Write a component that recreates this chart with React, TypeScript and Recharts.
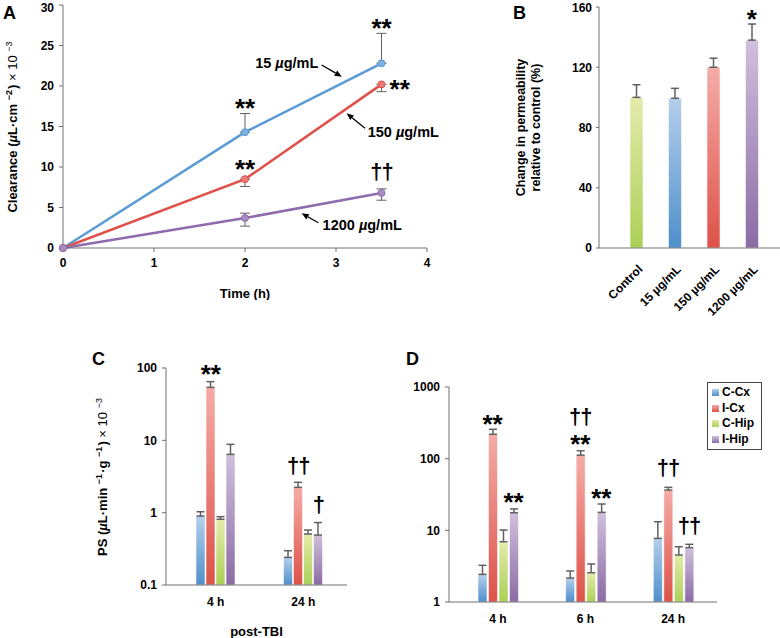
import React from 'react';
import {
  LineChart, Line, BarChart, Bar, XAxis, YAxis, ErrorBar, ReferenceDot, ReferenceLine, Legend, Cell,
} from 'recharts';

const FONT = '"Liberation Sans", Arial, Helvetica, sans-serif';
const AXIS = '#707070';
const ERR = '#606060';

// ---------- Panel A data ----------
const timeH = [0, 2, 3.5];
const xTicksA = [0, 1, 2, 3, 4];
const yTicksA = [0, 5, 10, 15, 20, 25, 30];
const c15 = [0, 14.3, 22.8];
const c15Lo = [0, 14.3, 22.8];
const c15Hi = [0, 16.6, 26.5];
const c150 = [0, 8.5, 20.2];
const c150Lo = [0, 7.6, 19.3];
const c150Hi = [0, 8.5, 20.2];
const c1200 = [0, 3.7, 6.8];
const c1200Lo = [0, 2.7, 5.9];
const c1200Hi = [0, 4.3, 7.3];
const doseLabelsA = [
  { text: '15 µg/mL', x: 2.806, y: 22.88, anchor: 'end' },
  { text: '150 µg/mL', x: 3.348, y: 14.36, anchor: 'start' },
  { text: '1200 µg/mL', x: 2.853, y: 2.84, anchor: 'start' },
];
const arrowsA = [
  { x1: 2.843, y1: 22.59, x2: 3.063, y2: 21.15 },
  { x1: 3.319, y1: 14.78, x2: 3.117, y2: 16.63 },
  { x1: 2.806, y1: 3.12, x2: 2.623, y2: 4.28 },
];
const marksA = [
  { x: 2, y: 18.0, t: '**' },
  { x: 3.5, y: 27.9, t: '**' },
  { x: 2, y: 10.5, t: '**' },
  { x: 3.7, y: 20.3, t: '**' },
  { x: 3.5, y: 9.3, t: '††' },
];

// ---------- Panel B data ----------
const catsB = ['Control', '15 µg/mL', '150 µg/mL', '1200 µg/mL'];
const permB = [100, 99.4, 120, 138];
const permBTop = [108.4, 106, 126, 148.7];
const yTicksB = [0, 40, 80, 120, 160];
const gradB = [
  ['#e4ebab', '#abd056'],
  ['#b5cfeb', '#4e8fcb'],
  ['#f5aca7', '#dd5248'],
  ['#cfc0db', '#8c6ba5'],
];
const marksB = [{ x: '1200 µg/mL', y: 156, t: '*' }];

// ---------- Panels C & D data ----------
const seriesNames = ['C-Cx', 'I-Cx', 'C-Hip', 'I-Hip'];
const seriesKeys = ['cCx', 'iCx', 'cHip', 'iHip'];
const gradS = [
  ['#b5cfeb', '#4e8fcb'],
  ['#f5aca7', '#dd5248'],
  ['#e4ebab', '#abd056'],
  ['#cfc0db', '#8c6ba5'],
];

const catsC = ['4 h', '24 h'];
const C_cCx = [0.9, 0.241];
const C_cCxTop = [1.03, 0.298];
const C_iCx = [54, 2.24];
const C_iCxTop = [64.7, 2.63];
const C_cHip = [0.81, 0.507];
const C_cHipTop = [0.88, 0.575];
const C_iHip = [6.4, 0.49];
const C_iHipTop = [8.8, 0.73];
const yTicksC = [0.1, 1, 10, 100];
const marksC = [
  { x: '4 h', s: 1, y: 98, t: '**' },
  { x: '24 h', s: 1, y: 4.33, t: '††' },
  { x: '24 h', s: 3, y: 1.28, t: '†' },
];

const catsD = ['4 h', '6 h', '24 h'];
const D_cCx = [2.43, 2.16, 7.73];
const D_cCxTop = [3.25, 2.71, 13.2];
const D_iCx = [219, 112, 36.5];
const D_iCxTop = [257, 129, 39.8];
const D_cHip = [6.94, 2.56, 4.53];
const D_cHipTop = [10.1, 3.39, 5.9];
const D_iHip = [17.6, 17.8, 5.73];
const D_iHipTop = [19.9, 23.3, 6.38];
const yTicksD = [1, 10, 100, 1000];
const marksD = [
  { x: '4 h', s: 1, y: 369, t: '**' },
  { x: '4 h', s: 3, y: 30.4, t: '**' },
  { x: '6 h', s: 1, y: 381, t: '††' },
  { x: '6 h', s: 1, y: 194, t: '**' },
  { x: '6 h', s: 3, y: 34.6, t: '**' },
  { x: '24 h', s: 1, y: 74, t: '††' },
  { x: '24 h', s: 3, y: 11.2, t: '††' },
];

// ---------- build rows ----------
const errOf = (v: number, lo: number, hi: number) => (lo === hi && lo === v ? null : [v - lo, hi - v]);
const rowsA = timeH.map((t, i) => ({
  t,
  c15: c15[i], c15Err: errOf(c15[i], c15Lo[i], c15Hi[i]),
  c150: c150[i], c150Err: errOf(c150[i], c150Lo[i], c150Hi[i]),
  c1200: c1200[i], c1200Err: errOf(c1200[i], c1200Lo[i], c1200Hi[i]),
}));
const rowsB = catsB.map((cat, i) => ({ cat, v: permB[i], err: [0, permBTop[i] - permB[i]] }));
const buildRows = (cats: string[], vals: number[][], tops: number[][]) =>
  cats.map((cat, i) => {
    const r: any = { cat };
    seriesKeys.forEach((k, s) => {
      r[k] = vals[s][i];
      r[k + 'Err'] = [0, tops[s][i] - vals[s][i]];
    });
    return r;
  });
const rowsC = buildRows(catsC, [C_cCx, C_iCx, C_cHip, C_iHip], [C_cCxTop, C_iCxTop, C_cHipTop, C_iHipTop]);
const rowsD = buildRows(catsD, [D_cCx, D_iCx, D_cHip, D_iHip], [D_cCxTop, D_iCxTop, D_cHipTop, D_iHipTop]);

// ---------- helpers ----------
const tickStyle = { fill: '#000', fontSize: 12, fontWeight: 'bold' as const, fontFamily: FONT };

const muText = (s: string, italic: boolean) => {
  const parts = s.split('µ');
  const out: any[] = [];
  parts.forEach((p, i) => {
    if (i > 0) out.push(<tspan key={'m' + i} fontStyle={italic ? 'italic' : 'normal'}>µ</tspan>);
    if (p) out.push(<tspan key={'p' + i}>{p}</tspan>);
  });
  return out;
};

const markShape = (t: string, dx: number) => (p: any) => {
  const dagger = t.indexOf('†') >= 0;
  const fs = dagger ? 22 : 26;
  const dy = dagger ? 0.3 * fs : 0.57 * fs;
  return (
    <text x={p.cx + dx} y={p.cy + dy} textAnchor="middle" fontFamily={FONT} fontWeight="bold" fontSize={fs} fill="#000"
      letterSpacing={dagger ? -1 : 0}>
      {t}
    </text>
  );
};

const ArrowShape = (p: any) => {
  const { x1, y1, x2, y2 } = p;
  const ang = Math.atan2(y2 - y1, x2 - x1);
  const L = 7, W = 3;
  const bx = x2 - L * Math.cos(ang), by = y2 - L * Math.sin(ang);
  const px = -Math.sin(ang) * W, py = Math.cos(ang) * W;
  return (
    <g>
      <line x1={x1} y1={y1} x2={bx} y2={by} stroke="#000" strokeWidth={1.3} />
      <polygon points={`${x2},${y2} ${bx + px},${by + py} ${bx - px},${by - py}`} fill="#000" />
    </g>
  );
};

const RotTick = (p: any) => {
  const { x, y, payload } = p;
  const ax = x + 7, ay = y + 14;
  return (
    <text x={ax} y={ay} textAnchor="end" transform={`rotate(-45 ${ax} ${ay})`} fontFamily={FONT} fontWeight="bold" fontSize={12} fill="#000">
      {muText(payload.value, false)}
    </text>
  );
};

const Gradients = ({ prefix, cols }: { prefix: string; cols: string[][] }) => (
  <defs>
    {cols.map((c, i) => (
      <linearGradient key={i} id={prefix + i} x1="0" y1="0" x2="0" y2="1">
        <stop offset="0%" stopColor={c[0]} />
        <stop offset="100%" stopColor={c[1]} />
      </linearGradient>
    ))}
  </defs>
);

const sup = (s: string, key: string, extra: any = {}) => [
  <tspan key={key + 'a'} dy={-5} fontSize={9} {...extra}>{s}</tspan>,
  <tspan key={key + 'b'} dy={5}>{'\u200A'}</tspan>,
];

// ---------- panels ----------
function PanelA() {
  const colors = ['#5b9bd5', '#e0504a', '#8e6bac'];
  const dotFill = ['#7db1e0', '#ea7d77', '#a78cc0'];
  const keys = ['c15', 'c150', 'c1200'];
  return (
    <LineChart width={470} height={300} data={rowsA} margin={{ top: 5, right: 43, bottom: 2, left: 0 }} style={{ overflow: 'visible' }}>
      <XAxis
        dataKey="t" type="number" domain={[0, 4]} ticks={xTicksA} stroke={AXIS} tick={tickStyle}
        tickSize={4} tickMargin={6} height={50}
        label={{
          content: (lp: any) => {
            const vb = lp.viewBox;
            return (
              <text x={vb.x + vb.width / 2} y={vb.y + 50} textAnchor="middle" fontFamily={FONT} fontWeight="bold" fontSize={13} fill="#000">
                Time (h)
              </text>
            );
          },
        }}
      />
      <YAxis
        type="number" domain={[0, 30]} ticks={yTicksA} width={63} stroke={AXIS} tick={tickStyle} tickSize={4} tickMargin={5}
        label={{
          content: (lp: any) => {
            const vb = lp.viewBox;
            const cx = vb.x + 12, cy = vb.y + vb.height / 2;
            return (
              <text x={cx} y={cy} dy="0.35em" transform={`rotate(-90 ${cx} ${cy})`} textAnchor="middle" fontFamily={FONT} fontWeight="bold" fontSize={13} fill="#000">
                Clearance (<tspan fontStyle="italic">µ</tspan>L·cm {sup('−2', 's1')}) <tspan fontWeight="normal">× 10 </tspan>{sup('−3', 's2', { fontWeight: 'normal' })}
              </text>
            );
          },
        }}
      />
      {keys.map((k, i) => (
        <Line key={k} dataKey={k} stroke={colors[i]} strokeWidth={2.5} isAnimationActive={false}
          dot={{ r: 3.5, fill: dotFill[i], stroke: colors[i], strokeWidth: 1 }}>
          <ErrorBar dataKey={k + 'Err'} width={5} stroke={ERR} strokeWidth={1} direction="y" />
        </Line>
      ))}
      {arrowsA.map((a, i) => (
        <ReferenceLine key={'ar' + i} segment={[{ x: a.x1, y: a.y1 }, { x: a.x2, y: a.y2 }]} shape={ArrowShape} />
      ))}
      {doseLabelsA.map((d, i) => (
        <ReferenceDot key={'dl' + i} x={d.x} y={d.y} r={0}
          shape={(p: any) => (
            <text x={p.cx} y={p.cy} dy="0.36em" textAnchor={d.anchor as any} fontFamily={FONT} fontWeight="bold" fontSize={14.5} fill="#000">
              {muText(d.text, true)}
            </text>
          )}
        />
      ))}
      {marksA.map((m, i) => (
        <ReferenceDot key={'mk' + i} x={m.x} y={m.y} r={0} shape={markShape(m.t, 0)} />
      ))}
    </LineChart>
  );
}

function PanelB() {
  return (
    <BarChart width={340} height={330} data={rowsB} margin={{ top: 7, right: 0, bottom: 2, left: 0 }}>
      <Gradients prefix="gB" cols={gradB} />
      <XAxis dataKey="cat" height={80} padding={{ left: 18, right: 9 }} tickLine={false} tick={<RotTick />} interval={0} stroke={AXIS} />
      <YAxis
        type="number" domain={[0, 160]} ticks={yTicksB} width={159} stroke={AXIS} tick={tickStyle} tickSize={3} tickMargin={4}
        label={{
          content: (lp: any) => {
            const vb = lp.viewBox;
            const cy = vb.y + vb.height / 2;
            const x1 = vb.x + 81, x2 = vb.x + 96;
            return (
              <g>
                <text x={x1} y={cy} dy="0.35em" transform={`rotate(-90 ${x1} ${cy})`} textAnchor="middle" fontFamily={FONT} fontWeight="bold" fontSize={12.5} fill="#000">
                  Change in permeability
                </text>
                <text x={x2} y={cy} dy="0.35em" transform={`rotate(-90 ${x2} ${cy})`} textAnchor="middle" fontFamily={FONT} fontWeight="bold" fontSize={12.5} fill="#000">
                  relative to control (%)
                </text>
              </g>
            );
          },
        }}
      />
      <Bar dataKey="v" barSize={13} isAnimationActive={false} stroke="rgba(255,255,255,0.55)" strokeWidth={1}>
        {rowsB.map((r, i) => (
          <Cell key={r.cat} fill={`url(#gB${i})`} />
        ))}
        <ErrorBar dataKey="err" width={4} stroke={ERR} strokeWidth={1.5} />
      </Bar>
      {marksB.map((m, i) => (
        <ReferenceDot key={'mb' + i} x={m.x} y={m.y} r={0} shape={markShape(m.t, 0)} />
      ))}
    </BarChart>
  );
}

function GroupedLog({ rows, width, height, margin, yWidth, xHeight, domain, ticks, padLeft, pitch, gap, marks, prefix, title, xTitle, legend }: any) {
  return (
    <BarChart width={width} height={height} data={rows} margin={margin} barSize={9} barGap={gap}>
      <Gradients prefix={prefix} cols={gradS} />
      <XAxis
        dataKey="cat" height={xHeight}
        padding={{ left: padLeft, right: 0 }} tickLine={false} tickSize={0} tickMargin={12} interval={0} stroke={AXIS} tick={tickStyle}
        label={xTitle ? {
          content: (lp: any) => {
            const vb = lp.viewBox;
            return (
              <text x={vb.x + vb.width / 2} y={vb.y + 51} textAnchor="middle" fontFamily={FONT} fontWeight="bold" fontSize={13} fill="#000">
                {xTitle}
              </text>
            );
          },
        } : undefined}
      />
      <YAxis
        scale="log" type="number" domain={domain} ticks={ticks} allowDataOverflow width={yWidth} stroke={AXIS}
        tick={tickStyle} tickSize={4} tickMargin={5} tickFormatter={(v: number) => String(v)}
        label={title ? {
          content: (lp: any) => {
            const vb = lp.viewBox;
            const cx = vb.x + 102, cy = vb.y + vb.height / 2;
            return (
              <text x={cx} y={cy} dy="0.35em" transform={`rotate(-90 ${cx} ${cy})`} textAnchor="middle" fontFamily={FONT} fontWeight="bold" fontSize={13} fill="#000">
                PS (<tspan fontStyle="italic">µ</tspan>L·min {sup('−1', 'a')}·g {sup('−1', 'b')}) <tspan fontWeight="normal">× 10 </tspan>{sup('−3', 'c', { fontWeight: 'normal' })}
              </text>
            );
          },
        } : undefined}
      />
      {seriesKeys.map((k, i) => (
        <Bar key={k} dataKey={k} name={seriesNames[i]} fill={`url(#${prefix}${i})`} isAnimationActive={false} stroke="rgba(255,255,255,0.55)" strokeWidth={1}>
          <ErrorBar dataKey={k + 'Err'} width={4} stroke={ERR} strokeWidth={1.5} />
        </Bar>
      ))}
      {legend ? (
        <Legend
          layout="vertical" align="center" verticalAlign="middle"
          wrapperStyle={{ left: 317, top: 52, width: 'auto', height: 'auto' }}
          content={() => (
            <div style={{ border: '1px solid #444', background: '#fff', padding: '2px 5px 2px 4px', fontFamily: FONT, fontWeight: 'bold', fontSize: 12, lineHeight: '15.5px', width: 44 }}>
              {seriesNames.map((n, i) => (
                <div key={n} style={{ display: 'flex', alignItems: 'center', whiteSpace: 'nowrap' }}>
                  <span style={{ display: 'inline-block', width: 7, height: 7, marginRight: 3, background: `linear-gradient(${gradS[i][0]}, ${gradS[i][1]})` }} />
                  <span>{n}</span>
                </div>
              ))}
            </div>
          )}
        />
      ) : null}
      {marks.map((m: any, i: number) => (
        <ReferenceDot key={'m' + i} x={m.x} y={m.y} r={0} shape={markShape(m.t, (m.s - 1.5) * pitch)} />
      ))}
    </BarChart>
  );
}

export default function App() {
  return (
    <div style={{ position: 'absolute', left: 0, top: 0, width: 780, height: 638, background: '#fff', overflow: 'hidden' }}>
      <div style={{ position: 'absolute', left: 0, top: 0 }}>
        <PanelA />
      </div>
      <div style={{ position: 'absolute', left: 440, top: 0 }}>
        <PanelB />
      </div>
      <div style={{ position: 'absolute', left: 0, top: 330 }}>
        <GroupedLog
          rows={rowsC} width={390} height={308} margin={{ top: 38, right: 43, bottom: 3, left: 0 }} yWidth={166} xHeight={50}
          domain={[0.1, 100]} ticks={yTicksC} padLeft={6} pitch={10} gap={1} marks={marksC} prefix="gC"
          title xTitle="post-TBI" legend={false}
        />
      </div>
      <div style={{ position: 'absolute', left: 390, top: 330 }}>
        <GroupedLog
          rows={rowsD} width={390} height={308} margin={{ top: 57, right: 63, bottom: 0, left: 0 }} yWidth={59} xHeight={36}
          domain={[1, 1000]} ticks={yTicksD} padLeft={5} pitch={10.5} gap={1.5} marks={marksD} prefix="gD"
          title={false} xTitle={null} legend
        />
      </div>
      <svg width={780} height={638} style={{ position: 'absolute', left: 0, top: 0, pointerEvents: 'none' }}>
        <g fontFamily={FONT} fontWeight="bold" fontSize={18} fill="#000">
          <text x={3} y={19}>A</text>
          <text x={513} y={19}>B</text>
          <text x={92} y={365}>C</text>
          <text x={406} y={365}>D</text>
        </g>
      </svg>
    </div>
  );
}
